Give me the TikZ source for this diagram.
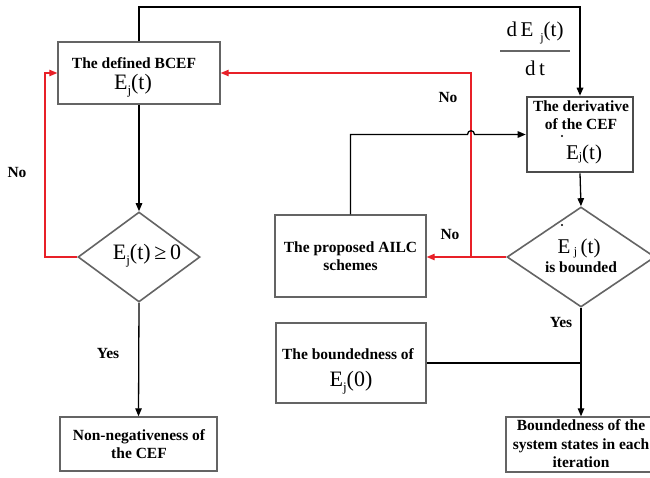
\documentclass[tikz,border=0pt]{standalone}
\usepackage{fontspec}
\setmainfont{Liberation Serif}
\usetikzlibrary{arrows.meta,shapes.geometric,shadows}
\definecolor{bordergray}{RGB}{100,100,100}
\definecolor{arrred}{RGB}{232,32,40}
\newcommand{\EjOf}[2]{E\raisebox{-#2}{\fontsize{13}{13}\selectfont j}(#1)}
\tikzset{
  boxnode/.style={draw=bordergray, line width=1.4pt, fill=white, rectangle, inner sep=0pt,
    drop shadow={shadow xshift=1.2pt, shadow yshift=-1.2pt, opacity=0.25}},
  decnode/.style={draw=bordergray, line width=1.6pt, fill=white, diamond, inner sep=0pt},
  btxt/.style={font=\bfseries\fontsize{15.5}{18.5}\selectfont, align=center, inner sep=0pt},
  mtxt/.style={font=\fontsize{22}{24}\selectfont, inner sep=0pt},
  dotmark/.style={circle, fill=black, inner sep=0pt, minimum size=2.4pt},
  blk/.style={draw=black, line width=1.3pt, -{Triangle[length=8pt,width=6.5pt]}},
  blkplain/.style={draw=black, line width=1.1pt},
  redl/.style={draw=arrred, line width=1.1pt, -{Triangle[length=8pt,width=6.5pt]}},
}
\begin{document}
\begin{tikzpicture}[x=1pt,y=-1pt]
\useasboundingbox[fill=white] (0,0) rectangle (650,477);

% boxes
\node[boxnode, minimum width=162pt, minimum height=62pt] (bcef) at (139,73) {};
\node[boxnode, draw=black!70, line width=2.6pt, minimum width=106pt, minimum height=75pt] (deriv) at (580,134.5) {};
\node[boxnode, minimum width=151pt, minimum height=82pt] (ailc) at (350.5,256) {};
\node[boxnode, minimum width=150pt, minimum height=80pt] (bnd0) at (351,363) {};
\node[boxnode, minimum width=157pt, minimum height=54pt] (nonneg) at (138.5,444) {};
\node[boxnode, minimum width=150pt, minimum height=55pt] (final) at (581,444.5) {};
\node[decnode, minimum width=122pt, minimum height=90pt] (d1) at (139,257) {};
\node[decnode, minimum width=148pt, minimum height=100pt] (d2) at (581,257) {};

% texts
\node[btxt] (t1) at (134,63) {The defined BCEF};
\node[mtxt] (t1m) at (133,86) {\EjOf{t}{5pt}};
\node[btxt] (t2) at (581,115) {The derivative\\of the CEF};
\node[dotmark] (t2dot) at (562,136) {};
\node[font=\fontsize{21}{22}\selectfont, inner sep=0pt] (t2m) at (584,154) {E\raisebox{-1pt}{\fontsize{12}{12}\selectfont j}(t)};
\node[btxt] (t3) at (350.5,256) {The proposed AILC\\schemes};
\node[btxt] (t4) at (348,354) {The boundedness of};
\node[mtxt] (t4m) at (351,383) {\EjOf{0}{5pt}};
\node[btxt] (t5) at (139,444) {Non-negativeness of\\the CEF};
\node[btxt] (t6) at (581,444) {Boundedness of the\\system states in each\\iteration};
\node[mtxt] (t7) at (147,256) {\EjOf{t}{5pt}\,≥\,0};
\node[dotmark] (t8dot) at (562,225) {};
\node[font=\fontsize{21}{22}\selectfont, inner sep=0pt] (t8m) at (579,248) {E\,\raisebox{-2pt}{\fontsize{12}{12}\selectfont j}\,(t)};
\node[btxt] (t8) at (581,267) {is bounded};

% fraction
\node[font=\fontsize{21}{22}\selectfont, inner sep=0pt] (fnum) at (535,33) {d\,E\,\,\raisebox{-5pt}{\fontsize{12}{12}\selectfont j}(t)};
\node[inner sep=0pt] (fbar) at (535,51) {\textcolor{black!60}{\rule{70pt}{1.2pt}}};
\node[font=\fontsize{21}{22}\selectfont, inner sep=0pt] (fden) at (535,68) {d\,t};

% labels
\node[btxt] (no1) at (17,172) {No};
\node[btxt] (no2) at (448,97) {No};
\node[btxt] (no3) at (450,234) {No};
\node[btxt] (yes1) at (108,353) {Yes};
\node[btxt] (yes2) at (561,322) {Yes};

% coordinates
\coordinate (topy) at (0,7);
\coordinate (redL) at (45,0);
\coordinate (redJ) at (471,256.5);
\coordinate (hopA) at (467.5,134.5);
\coordinate (hopB) at (474.5,134.5);

% connectors
\draw[blk, line width=1.6pt] (bcef.north) -- (bcef.north |- topy) -| (deriv.north);
\draw[blk] (bcef.south) -- (d1.north);
\draw[redl] (d1.west) -- (d1.west -| redL) |- (bcef.west);
\draw[blk] (d1.south) -- (nonneg.north);
\draw[redl] (d2.west) -- (ailc.east |- d2.west);
\draw[redl] (redJ) |- (bcef.east);
\draw[blk] (ailc.north) |- (hopA) .. controls (467.5,129.5) and (474.5,129.5) .. (hopB) -- (deriv.west);
\draw[blk] (deriv.south) -- (d2.north);
\draw[blk] (d2.south) -- (final.north);
\draw[blkplain] (bnd0.east) -- (bnd0.east -| d2.south);
\end{tikzpicture}
\end{document}
